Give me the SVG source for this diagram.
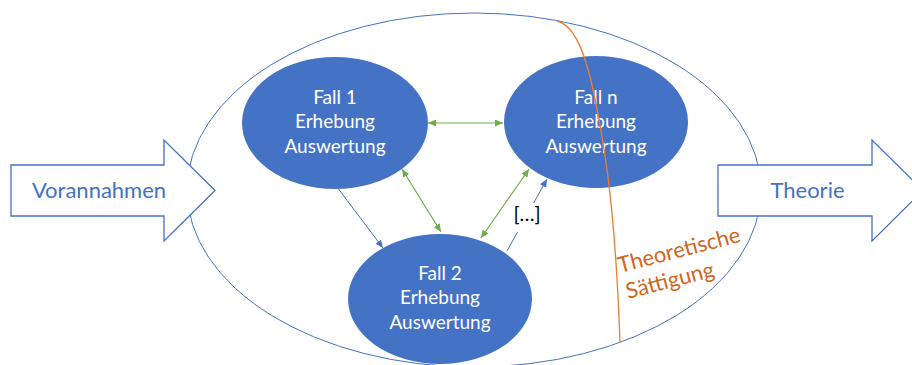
<svg xmlns="http://www.w3.org/2000/svg" width="912" height="365" viewBox="0 0 912 365">
<style>
.node{fill:#4472C4}
.nt{font-family:Lato,"Liberation Sans",sans-serif;font-size:19px;fill:#fff;text-anchor:middle}
.at{font-family:Lato,"Liberation Sans",sans-serif;font-size:22px;fill:#4472C4;text-anchor:middle}
.big{fill:none;stroke:#4472C4;stroke-width:1}
.arr{fill:#fff;stroke:#4472C4;stroke-width:1.3}
.g{stroke:#70AD47;stroke-width:1.2;fill:none}
.b{stroke:#4472C4;stroke-width:1;fill:none}
.sat{font-family:Lato,"Liberation Sans",sans-serif;font-size:22px;fill:#D0661E}
</style>
<defs>
<marker id="mg" viewBox="0 0 8 7" refX="8" refY="3.5" markerWidth="8" markerHeight="7" markerUnits="userSpaceOnUse" orient="auto-start-reverse"><path d="M0,0 L8,3.5 L0,7 z" fill="#70AD47"/></marker>
<marker id="mb" viewBox="0 0 8 7" refX="8" refY="3.5" markerWidth="8" markerHeight="7" markerUnits="userSpaceOnUse" orient="auto"><path d="M0,0 L8,3.5 L0,7 z" fill="#4472C4"/></marker>
</defs>
<rect width="912" height="365" fill="#fff"/>
<g id="rahmen"><ellipse class="big" cx="474" cy="190" rx="287" ry="177"/></g>
<g id="vorannahmen">
<path class="arr" d="M11,165 H164 V140 L215,190.5 L164,241 V216 H11 Z"/>
<text class="at" x="99" y="198">Vorannahmen</text>
</g>
<g id="theorie">
<path class="arr" d="M718,165 H872 V140 L923,190.5 L872,241 V216 H718 Z"/>
<text class="at" x="807.5" y="198">Theorie</text>
</g>
<g id="fall1">
<ellipse class="node" cx="335" cy="123" rx="93" ry="66"/>
<text class="nt" x="335" y="104">Fall 1</text>
<text class="nt" x="335" y="128">Erhebung</text>
<text class="nt" x="335" y="153">Auswertung</text>
</g>
<g id="falln">
<ellipse class="node" cx="596" cy="122" rx="92" ry="66"/>
<text class="nt" x="596" y="104">Fall n</text>
<text class="nt" x="596" y="128">Erhebung</text>
<text class="nt" x="596" y="153">Auswertung</text>
</g>
<g id="fall2">
<ellipse class="node" cx="440" cy="299" rx="92" ry="65"/>
<text class="nt" x="440" y="280">Fall 2</text>
<text class="nt" x="440" y="304">Erhebung</text>
<text class="nt" x="440" y="329">Auswertung</text>
</g>
<g id="connectors">
<line class="g" x1="428" y1="123" x2="503" y2="123" marker-start="url(#mg)" marker-end="url(#mg)"/>
<line class="g" x1="402" y1="169" x2="441" y2="232" marker-start="url(#mg)" marker-end="url(#mg)"/>
<line class="g" x1="481" y1="238" x2="529" y2="169" marker-start="url(#mg)" marker-end="url(#mg)"/>
<line class="b" x1="337" y1="187" x2="383" y2="248" marker-end="url(#mb)"/>
<line class="b" x1="507" y1="251" x2="547" y2="179" marker-end="url(#mb)"/>
</g>
<g id="label-dots">
<rect x="510" y="203" width="35" height="29" fill="#fff"/>
<text x="527" y="221" font-family="Lato,'Liberation Sans',sans-serif" font-size="20" text-anchor="middle" fill="#000">[…]</text>
</g>
<g id="saettigung">
<path d="M557,21 C572,24 583,45 592,85 C603,135 615,200 620,343" fill="none" stroke="#ED7D31" stroke-width="1.3"/>
<text class="sat" transform="translate(620,273) rotate(-14.5)">Theoretische</text>
<text class="sat" transform="translate(628,299) rotate(-14.5)">Sättigung</text>
</g>
</svg>
